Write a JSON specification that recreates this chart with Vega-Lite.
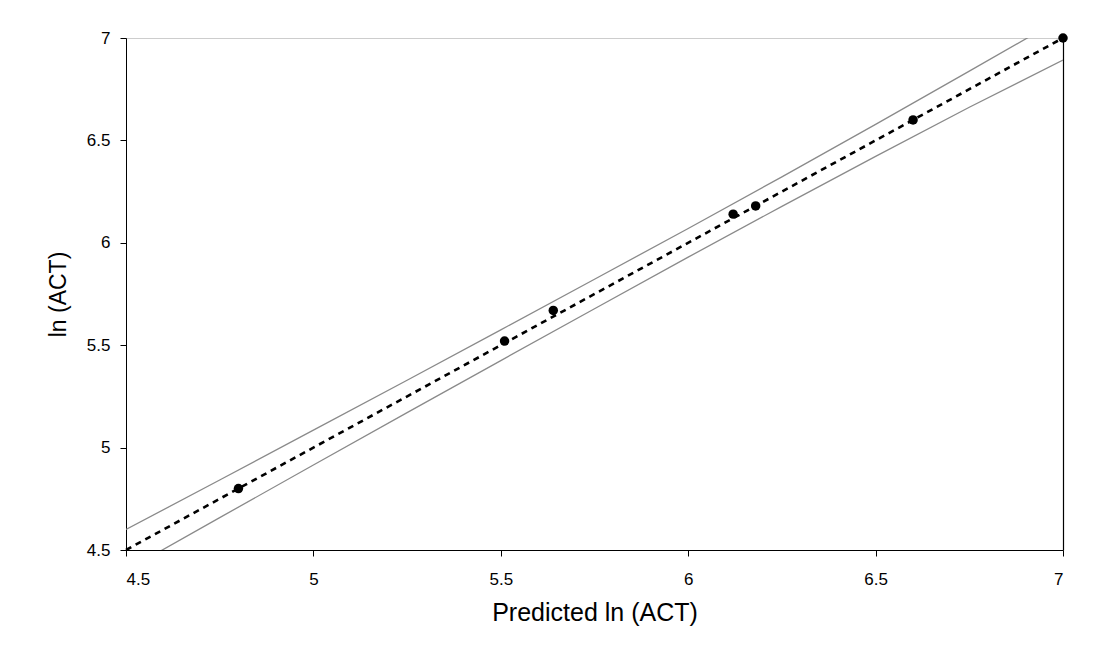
{
  "$schema": "https://vega.github.io/schema/vega-lite/v6.json",
  "width": 937,
  "height": 512,
  "autosize": {"type": "none"},
  "padding": {"left": 126, "top": 38, "right": 38, "bottom": 115},
  "background": "white",
  "config": {
    "view": {"stroke": null},
    "font": "Liberation Sans",
    "axis": {
      "labelFont": "Liberation Sans",
      "titleFont": "Liberation Sans",
      "labelColor": "#000",
      "titleColor": "#000",
      "titleFontWeight": "normal",
      "domainColor": "#000",
      "tickColor": "#000",
      "grid": false
    }
  },
  "datasets": {
    "band": [
      {"x": 4.5, "upper": 4.6, "lower": 4.4},
      {"x": 4.75, "upper": 4.842, "lower": 4.658},
      {"x": 5.0, "upper": 5.085, "lower": 4.915},
      {"x": 5.25, "upper": 5.329, "lower": 5.171},
      {"x": 5.5, "upper": 5.575, "lower": 5.425},
      {"x": 5.75, "upper": 5.822, "lower": 5.678},
      {"x": 6.0, "upper": 6.07, "lower": 5.93},
      {"x": 6.25, "upper": 6.322, "lower": 6.178},
      {"x": 6.5, "upper": 6.578, "lower": 6.422},
      {"x": 6.75, "upper": 6.838, "lower": 6.662},
      {"x": 7.0, "upper": 7.1, "lower": 6.892}
    ],
    "fit": [
      {"x": 4.5, "y": 4.5},
      {"x": 7.0, "y": 7.0}
    ],
    "obs": [
      {"predicted": 4.80, "actual": 4.80},
      {"predicted": 5.51, "actual": 5.52},
      {"predicted": 5.64, "actual": 5.67},
      {"predicted": 6.12, "actual": 6.14},
      {"predicted": 6.18, "actual": 6.18},
      {"predicted": 6.60, "actual": 6.60},
      {"predicted": 7.0, "actual": 7.0}
    ]
  },
  "resolve": {"axis": {"x": "independent", "y": "independent"}},
  "layer": [
    {
      "data": {"name": "band"},
      "mark": {"type": "line", "color": "#8a8a8a", "strokeWidth": 1.3, "clip": true},
      "encoding": {
        "x": {
          "field": "x", "type": "quantitative",
          "scale": {"domain": [4.5, 7], "nice": false, "zero": false},
          "axis": {
            "orient": "bottom",
            "values": [4.5, 5, 5.5, 6, 6.5, 7],
            "format": "~g",
            "labelFontSize": 17,
            "tickSize": 6,
            "labelPadding": 15,
            "title": "Predicted ln (ACT)",
            "titleFontSize": 25,
            "titlePadding": 13
          }
        },
        "y": {
          "field": "upper", "type": "quantitative",
          "scale": {"domain": [4.5, 7], "nice": false, "zero": false},
          "axis": {
            "orient": "left",
            "values": [4.5, 5, 5.5, 6, 6.5, 7],
            "format": "~g",
            "labelFontSize": 17,
            "tickSize": 6,
            "labelPadding": 10,
            "title": "ln (ACT)",
            "titleFontSize": 23,
            "titlePadding": 16
          }
        }
      }
    },
    {
      "data": {"name": "band"},
      "mark": {"type": "line", "color": "#8a8a8a", "strokeWidth": 1.3, "clip": true},
      "encoding": {
        "x": {"field": "x", "type": "quantitative", "axis": null},
        "y": {"field": "lower", "type": "quantitative", "axis": null}
      }
    },
    {
      "data": {"name": "fit"},
      "mark": {"type": "line", "color": "#000", "strokeWidth": 2.6, "strokeDash": [6, 5]},
      "encoding": {
        "x": {"field": "x", "type": "quantitative", "axis": null},
        "y": {"field": "y", "type": "quantitative", "axis": null}
      }
    },
    {
      "data": {"name": "obs"},
      "mark": {"type": "circle", "color": "#000", "opacity": 1, "size": 90},
      "encoding": {
        "x": {
          "field": "predicted", "type": "quantitative",
          "axis": {
            "orient": "top",
            "labels": false, "ticks": false, "title": null,
            "domainColor": "#9a9a9a", "domainDash": [1, 1], "domainWidth": 1
          }
        },
        "y": {
          "field": "actual", "type": "quantitative",
          "axis": {
            "orient": "right",
            "labels": false, "ticks": false, "title": null,
            "domainColor": "#000", "domainWidth": 1.2
          }
        }
      }
    }
  ]
}
